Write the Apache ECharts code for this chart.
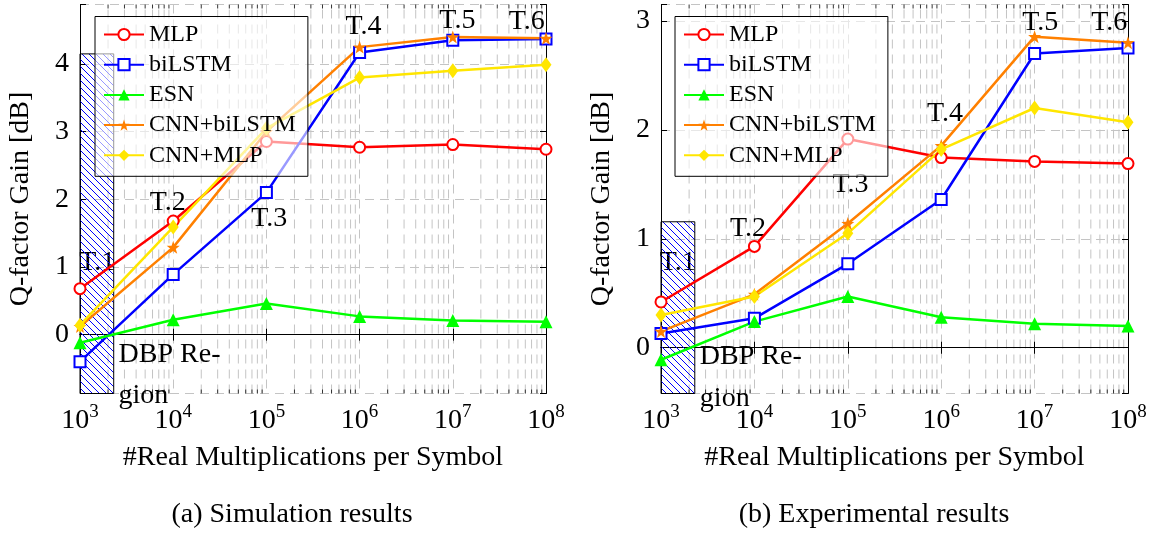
<!DOCTYPE html>
<html><head><meta charset="utf-8">
<script src="https://cdn.jsdelivr.net/npm/echarts@6/dist/echarts.min.js"></script>
<style>html,body{margin:0;padding:0;background:#fff}#c{width:1152px;height:537px}</style>
</head><body><div id="c"></div>
<script>
// ---------------- data ----------------
const xValues = [1e3, 1e4, 1e5, 1e6, 1e7, 1e8];
const seriesNames = ['MLP', 'biLSTM', 'ESN', 'CNN+biLSTM', 'CNN+MLP'];

// (a) Simulation results
const simMLP        = [0.68, 1.68, 2.855, 2.77, 2.81, 2.74];
const simBiLSTM     = [-0.40, 0.89, 2.10, 4.17, 4.35, 4.37];
const simESN        = [-0.12, 0.22, 0.46, 0.27, 0.21, 0.19];
const simCNNbiLSTM  = [0.12, 1.29, 3.00, 4.25, 4.40, 4.38];
const simCNNMLP     = [0.14, 1.59, 3.05, 3.80, 3.90, 3.99];

// (b) Experimental results
const expMLP        = [0.42, 0.93, 1.915, 1.745, 1.71, 1.69];
const expBiLSTM     = [0.13, 0.27, 0.77, 1.36, 2.70, 2.75];
const expESN        = [-0.11, 0.24, 0.47, 0.28, 0.22, 0.20];
const expCNNbiLSTM  = [0.15, 0.49, 1.14, 1.855, 2.855, 2.80];
const expCNNMLP     = [0.30, 0.47, 1.05, 1.82, 2.20, 2.07];

const simYRange = [-0.87, 4.88];
const expYRange = [-0.42, 3.15];
const xRange = [1e3, 1e8];
const minorMultipliers = [2, 3, 4, 5, 6, 7, 8, 9];
const decades = [1e3, 1e4, 1e5, 1e6, 1e7];

// DBP region rectangles: [xStart, xEnd, yBottom, yTop]
const simDBP = [1000, 2300, -0.87, 4.15];
const expDBP = [1000, 2300, -0.42, 1.156];

// annotations: [text, x, y, align]
const simNotes = [
  ['T.1', 1532, 1.07, 'center'], ['T.2', 8730, 1.945, 'center'], ['T.3', 107000, 1.71, 'center'],
  ['T.4', 1.1e6, 4.56, 'center'], ['T.5', 1.12e7, 4.635, 'center'], ['T.6', 6.2e7, 4.63, 'center'],
  ['DBP Re-', 2594, -0.29, 'left'], ['gion', 2594, -0.90, 'left']
];
const expNotes = [
  ['T.1', 1513, 0.78, 'center'], ['T.2', 8520, 1.09, 'center'], ['T.3', 1.07e5, 1.50, 'center'],
  ['T.4', 1.1e6, 2.15, 'center'], ['T.5', 1.15e7, 2.98, 'center'], ['T.6', 6.3e7, 2.98, 'center'],
  ['DBP Re-', 2606, -0.085, 'left'], ['gion', 2606, -0.466, 'left']
];

const captions = ['(a) Simulation results', '(b) Experimental results'];
const yAxisName = 'Q-factor Gain [dB]';
const xAxisName = '#Real Multiplications per Symbol';

// ---------------- styles ----------------
const FONT = '"Liberation Serif", "DejaVu Serif", serif';
const colors = ['#ff0000', '#0000ff', '#00ff00', '#ff8000', '#ffe600'];
const starPath = 'path://M0,-10L2.35,-3.24L9.51,-3.09L3.8,1.24L5.88,8.09L0,4L-5.88,8.09L-3.8,1.24L-9.51,-3.09L-2.35,-3.24Z';
const symbols = ['emptyCircle', 'emptyRect', 'triangle', starPath, 'diamond'];
const symbolSizes = [11, 11, 13, 13, [11, 15]];

// hatch pattern
const hatch = document.createElement('canvas');
hatch.width = 7; hatch.height = 7;
(function () {
  const g = hatch.getContext('2d');
  g.strokeStyle = '#0000ff'; g.lineWidth = 1;
  g.beginPath();
  g.moveTo(-1, -1); g.lineTo(8, 8);
  g.moveTo(-1, 6); g.lineTo(1, 8);
  g.moveTo(6, -1); g.lineTo(8, 1);
  g.stroke();
})();

const grids = [
  { left: 80, top: 4.5, width: 466, height: 389 },
  { left: 661, top: 4.5, width: 467, height: 389 }
];

const dashGrid = { color: '#c4c4c4', width: 1, type: [9, 6] };

function xAxes(gi) {
  return [
    {
      gridIndex: gi, type: 'log', logBase: 10, min: xRange[0], max: xRange[1], position: 'bottom',
      name: xAxisName, nameLocation: 'middle', nameGap: 50,
      nameTextStyle: { fontFamily: FONT, fontSize: 28, color: '#000' },
      axisLine: { lineStyle: { color: '#000', width: 1 } },
      axisTick: { inside: true, length: 6, lineStyle: { color: '#000' } },
      axisLabel: {
        margin: 9,
        formatter: v => '{b|10}{s|' + Math.round(Math.log10(v)) + '}',
        rich: {
          b: { fontFamily: FONT, fontSize: 28, color: '#000', lineHeight: 36 },
          s: { fontFamily: FONT, fontSize: 19, color: '#000', verticalAlign: 'top', lineHeight: 20 }
        }
      },
      splitLine: { show: true, lineStyle: dashGrid }
    },
    {
      gridIndex: gi, type: 'log', logBase: 10, min: xRange[0], max: xRange[1], position: 'top',
      axisLine: { lineStyle: { color: '#000', width: 1 } },
      axisTick: { inside: true, length: 6, lineStyle: { color: '#000' } },
      axisLabel: { show: false }, splitLine: { show: false }
    }
  ];
}
function yAxes(gi, yr) {
  return [
    {
      gridIndex: gi, type: 'value', min: yr[0], max: yr[1], position: 'left',
      name: yAxisName, nameLocation: 'middle', nameGap: 45,
      nameTextStyle: { fontFamily: FONT, fontSize: 28, color: '#000' },
      axisLine: { show: true, lineStyle: { color: '#000', width: 1 } },
      axisTick: { show: true, inside: true, length: 6, lineStyle: { color: '#000' } },
      axisLabel: {
        margin: 11, fontFamily: FONT, fontSize: 28, color: '#000',
        formatter: v => Math.abs(v - Math.round(v)) < 1e-6 ? String(Math.round(v)) : ''
      },
      splitLine: { show: true, lineStyle: dashGrid }
    },
    {
      gridIndex: gi, type: 'value', min: yr[0], max: yr[1], position: 'right',
      axisLine: { show: true, lineStyle: { color: '#000', width: 1 } },
      axisTick: { show: true, inside: true, length: 6, lineStyle: { color: '#000' } },
      axisLabel: { show: false }, splitLine: { show: false }
    }
  ];
}

const minorXs = [];
decades.forEach(d => minorMultipliers.forEach(m => minorXs.push([d * m, 0])));

function minorGridSeries(gi, yr) {
  return {
    type: 'custom', xAxisIndex: gi * 2, yAxisIndex: gi * 2, silent: true, z: 0,
    encode: { x: 0, y: 1 },
    data: minorXs,
    renderItem: (params, api) => {
      const x = api.value(0);
      const p0 = api.coord([x, yr[0]]);
      const p1 = api.coord([x, yr[1]]);
      return {
        type: 'group', children: [
          { type: 'line', shape: { x1: p0[0], y1: p0[1], x2: p1[0], y2: p1[1] }, style: { stroke: '#c4c4c4', lineWidth: 1, lineDash: [9, 6] } },
          { type: 'line', shape: { x1: p0[0], y1: p0[1], x2: p0[0], y2: p0[1] - 4 }, style: { stroke: '#333', lineWidth: 1 } },
          { type: 'line', shape: { x1: p1[0], y1: p1[1], x2: p1[0], y2: p1[1] + 4 }, style: { stroke: '#333', lineWidth: 1 } }
        ]
      };
    }
  };
}

function hatchSeries(gi, rect) {
  return {
    type: 'custom', xAxisIndex: gi * 2, yAxisIndex: gi * 2, silent: true, z: 2,
    encode: { x: [0, 1], y: [2, 3] },
    data: [rect],
    renderItem: (params, api) => {
      const a = api.coord([api.value(0), api.value(3)]);
      const b = api.coord([api.value(1), api.value(2)]);
      return {
        type: 'rect',
        shape: { x: a[0], y: a[1], width: b[0] - a[0], height: b[1] - a[1] },
        style: { fill: { image: hatch, repeat: 'repeat' }, stroke: '#000', lineWidth: 1 }
      };
    }
  };
}

function noteSeries(gi, notes) {
  return {
    type: 'custom', xAxisIndex: gi * 2, yAxisIndex: gi * 2, silent: true, z: 1, clip: false,
    encode: { x: 0, y: 1 },
    data: notes.map(n => [n[1], n[2]]),
    renderItem: (params, api) => {
      const n = notes[params.dataIndex];
      const p = api.coord([api.value(0), api.value(1)]);
      return {
        type: 'text', x: p[0], y: p[1],
        style: { text: n[0], fontFamily: FONT, fontSize: 28, fill: '#000', align: n[3], verticalAlign: 'middle' }
      };
    }
  };
}

function dataSeries(gi, arrs) {
  return arrs.map((arr, i) => ({
    type: 'line', name: seriesNames[i], xAxisIndex: gi * 2, yAxisIndex: gi * 2, z: 3,
    data: xValues.map((x, k) => [x, arr[k]]),
    symbol: symbols[i], symbolSize: symbolSizes[i], showAllSymbol: true,
    lineStyle: { color: colors[i], width: 2.5 },
    itemStyle: i < 2 ? { color: colors[i], borderWidth: 2 } : { color: colors[i] },
    emphasis: { disabled: true },
    animation: false
  }));
}

function legend(left) {
  return {
    show: true, data: seriesNames, orient: 'vertical', left: left, top: 16.5,
    padding: [6, 12, 9, 8], itemGap: 6.2, itemWidth: 40, itemHeight: 14,
    backgroundColor: 'rgba(255,255,255,0.6)', borderColor: '#000', borderWidth: 1, borderRadius: 0,
    textStyle: { fontFamily: FONT, fontSize: 24, color: '#000', lineHeight: 24 },
    selectedMode: false, z: 10
  };
}

const chart = echarts.init(document.getElementById('c'), null, { renderer: 'canvas' });
chart.setOption({
  animation: false,
  backgroundColor: '#fff',
  grid: grids,
  xAxis: [...xAxes(0), ...xAxes(1)],
  yAxis: [...yAxes(0, simYRange), ...yAxes(1, expYRange)],
  legend: [legend(95), legend(675)],
  graphic: [
    { type: 'text', x: 292, y: 515, style: { text: captions[0], fontFamily: FONT, fontSize: 28, fill: '#000', align: 'center', verticalAlign: 'middle' } },
    { type: 'text', x: 874, y: 515, style: { text: captions[1], fontFamily: FONT, fontSize: 28, fill: '#000', align: 'center', verticalAlign: 'middle' } }
  ],
  series: [
    minorGridSeries(0, simYRange),
    minorGridSeries(1, expYRange),
    noteSeries(0, simNotes),
    noteSeries(1, expNotes),
    hatchSeries(0, simDBP),
    hatchSeries(1, expDBP),
    ...dataSeries(0, [simMLP, simBiLSTM, simESN, simCNNbiLSTM, simCNNMLP]),
    ...dataSeries(1, [expMLP, expBiLSTM, expESN, expCNNbiLSTM, expCNNMLP])
  ]
});
</script>
</body></html>
